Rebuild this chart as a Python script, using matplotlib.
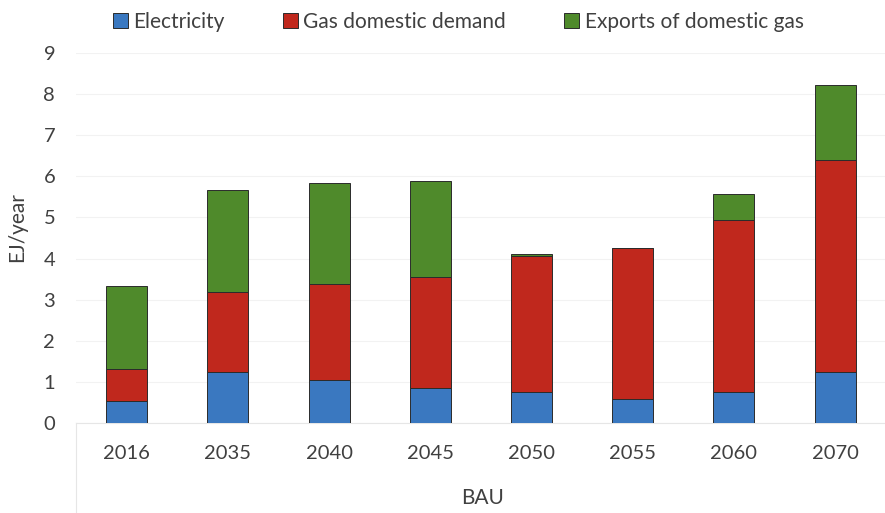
import matplotlib
matplotlib.use("Agg")
import matplotlib.pyplot as plt
import numpy as np

categories = ["2016", "2035", "2040", "2045", "2050", "2055", "2060", "2070"]
electricity = [0.54, 1.25, 1.05, 0.84, 0.76, 0.58, 0.76, 1.23]
gas_domestic = [0.77, 1.93, 2.32, 2.72, 3.31, 3.68, 4.17, 5.17]
exports = [2.02, 2.49, 2.47, 2.33, 0.03, 0.0, 0.64, 1.82]
series_names = ["Electricity", "Gas domestic demand", "Exports of domestic gas"]
colors = ["#3a78c0", "#c0281d", "#4f8a2b"]

plt.rcParams['font.family'] = ['Lato', 'DejaVu Sans']

fig = plt.figure(figsize=(8.85, 5.13), dpi=100)
ax = fig.add_axes([0.0859, 0.1754, 0.915, 0.7213])

x = np.arange(len(categories))
w = 0.405
e = np.array(electricity)
g = np.array(gas_domestic)
ex = np.array(exports)
ax.bar(x, e, w, color=colors[0], edgecolor="#2b2b2b", linewidth=0.7, label=series_names[0], zorder=3)
ax.bar(x, g, w, bottom=e, color=colors[1], edgecolor="#2b2b2b", linewidth=0.7, label=series_names[1], zorder=3)
ax.bar(x, ex, w, bottom=e + g, color=colors[2], edgecolor="#2b2b2b", linewidth=0.7, label=series_names[2], zorder=3)

ax.set_xlim(-0.5, len(categories) - 0.5)
ax.set_ylim(0, 9)
ax.set_yticks(range(0, 10))
ax.set_xticks(x)
ax.set_xticklabels(categories)
ax.tick_params(axis='both', length=0, labelsize=14.5, colors="#404040")
ax.tick_params(axis='x', pad=16)
ax.tick_params(axis='y', pad=15)
ax.grid(axis='y', color="#f2f2f2", linewidth=0.8, zorder=0)
for s in ["top", "right", "left"]:
    ax.spines[s].set_visible(False)
ax.spines["bottom"].set_color("#e6e6e6")

ax.set_ylabel("EJ/year", fontsize=15, color="#404040")
ax.yaxis.set_label_coords(-0.06, 0.53)
fig.text(0.545, 0.029, "BAU", ha="center", va="center", fontsize=15, color="#404040")

# group axis line at left
ax.plot([0, 0], [0, -0.24], transform=ax.transAxes, color="#e6e6e6", linewidth=0.8, clip_on=False)

leg = fig.legend(loc="center", bbox_to_anchor=(0.518, 0.958), ncol=3, frameon=False,
                 fontsize=15, handlelength=0.72, handleheight=0.72, handletextpad=0.25,
                 columnspacing=2.8)
for t in leg.get_texts():
    t.set_color("#404040")

fig.savefig("out.png", dpi=100)
